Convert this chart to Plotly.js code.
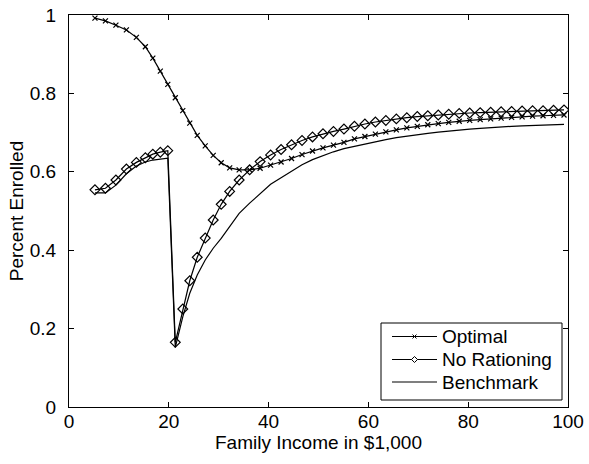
<!DOCTYPE html>
<html>
<head>
<meta charset="utf-8">
<script src="https://cdn.plot.ly/plotly-3.0.1.min.js"></script>
<style>
  html, body { margin: 0; padding: 0; background: #fff; }
  #chart { width: 589px; height: 464px; }
</style>
</head>
<body>
<div id="chart"></div>
<script>
// Family income grid (in $1,000)
const income = [5.2, 7.3, 9.4, 11.5, 13.5, 15.3, 16.8, 18.3, 19.8, 21.3, 22.8, 24.2, 25.7, 27.3, 28.9, 30.5, 32.2,
  34.1, 36.2, 38.3, 40.4, 42.5, 44.6, 46.7, 48.8, 50.9, 53.0, 55.1, 57.2, 59.3, 61.4, 63.5, 65.6, 67.7, 69.8,
  71.9, 74.0, 76.1, 78.2, 80.3, 82.4, 84.5, 86.6, 88.7, 90.8, 92.9, 95.0, 97.1, 99.2];

// Share of families enrolled under each policy
const optimal = [0.992, 0.985, 0.974, 0.962, 0.943, 0.919, 0.890, 0.857, 0.823, 0.789, 0.756, 0.724, 0.693, 0.666, 0.642, 0.623, 0.610,
  0.605, 0.605, 0.609, 0.617, 0.625, 0.634, 0.644, 0.653, 0.661, 0.668, 0.675, 0.684, 0.690, 0.696, 0.702, 0.707, 0.712, 0.716,
  0.720, 0.723, 0.726, 0.729, 0.731, 0.733, 0.735, 0.737, 0.739, 0.740, 0.742, 0.743, 0.744, 0.745];

const noRationing = [0.554, 0.558, 0.579, 0.607, 0.624, 0.636, 0.645, 0.650, 0.654, 0.165, 0.250, 0.322, 0.382, 0.431, 0.477, 0.517, 0.550,
  0.579, 0.605, 0.626, 0.643, 0.657, 0.669, 0.680, 0.689, 0.697, 0.703, 0.709, 0.716, 0.722, 0.727, 0.731, 0.735, 0.738, 0.741,
  0.743, 0.745, 0.747, 0.749, 0.750, 0.751, 0.752, 0.753, 0.754, 0.755, 0.756, 0.756, 0.757, 0.758];

const benchmark = [0.546, 0.546, 0.566, 0.595, 0.615, 0.625, 0.630, 0.633, 0.635, 0.152, 0.230, 0.290, 0.337, 0.375, 0.405, 0.430, 0.460,
  0.494, 0.520, 0.545, 0.568, 0.585, 0.602, 0.618, 0.631, 0.642, 0.651, 0.659, 0.665, 0.671, 0.677, 0.682, 0.687, 0.691, 0.695,
  0.698, 0.701, 0.704, 0.707, 0.709, 0.711, 0.713, 0.714, 0.716, 0.717, 0.718, 0.719, 0.720, 0.721];

const seriesNames = ['Optimal', 'No Rationing', 'Benchmark'];
const xTicks = [0, 20, 40, 60, 80, 100];
const yTicks = [0, 0.2, 0.4, 0.6, 0.8, 1];

const FONT = 'Liberation Sans, Arial, Helvetica, sans-serif';
const FS = 19;
const LW = 1.2;

// Plot area in pixels (used to place the boxed key in paper fractions)
const W = 589, H = 464;
const M = { l: 69, r: 21, t: 15, b: 57 };
const PW = W - M.l - M.r, PH = H - M.t - M.b;
const px2x = p => (p - M.l) / PW;
const py2y = p => (H - M.b - p) / PH;

const markerStyles = [
  { symbol: 'x-thin-open', size: 5 },
  { symbol: 'diamond-open', size: 7.5 },
  null
];
const seriesValues = [optimal, noRationing, benchmark];

const traces = seriesValues.map((vals, i) => {
  const t = {
    x: income, y: vals, name: seriesNames[i], type: 'scatter',
    mode: markerStyles[i] ? 'lines+markers' : 'lines',
    line: { color: '#000', width: LW },
    showlegend: false
  };
  if (markerStyles[i]) {
    t.marker = { symbol: markerStyles[i].symbol, size: markerStyles[i].size, color: '#000',
                 line: { color: '#000', width: LW } };
  }
  return t;
});

// Boxed key in the lower right corner
const key = { left: 381, right: 562, top: 323, bottom: 400, rowY: [336.5, 359.5, 382], lineX0: 392, lineX1: 437, textX: 440 };
const shapes = [{
  type: 'rect', xref: 'paper', yref: 'paper', layer: 'above',
  x0: px2x(key.left), x1: px2x(key.right), y0: py2y(key.bottom), y1: py2y(key.top),
  fillcolor: '#fff', line: { color: '#000', width: 1 }
}];
const annotations = [];
const midX = (key.lineX0 + key.lineX1) / 2;
seriesNames.forEach((name, i) => {
  const yy = py2y(key.rowY[i]);
  shapes.push({
    type: 'line', xref: 'paper', yref: 'paper', layer: 'above',
    x0: px2x(key.lineX0), x1: px2x(key.lineX1), y0: yy, y1: yy,
    line: { color: '#000', width: LW }
  });
  const base = {
    type: 'path', xref: 'paper', yref: 'paper', layer: 'above',
    xsizemode: 'pixel', ysizemode: 'pixel', xanchor: px2x(midX), yanchor: yy,
    line: { color: '#000', width: 1 }
  };
  if (i === 0) {
    shapes.push(Object.assign({}, base, { path: 'M-2,-2L2,2M-2,2L2,-2' }));
  } else if (i === 1) {
    shapes.push(Object.assign({}, base, { path: 'M0,3L3,0L0,-3L-3,0Z', fillcolor: '#fff' }));
  }
  annotations.push({
    xref: 'paper', yref: 'paper', x: px2x(key.textX), y: yy,
    xanchor: 'left', yanchor: 'middle', showarrow: false, text: name,
    font: { family: FONT, size: FS, color: '#000' }
  });
});

const axisCommon = {
  showgrid: false, zeroline: false, showline: true, linecolor: '#000', linewidth: 1,
  mirror: 'ticks', ticks: 'inside', ticklen: 5, tickcolor: '#000', tickwidth: 1,
  tickfont: { family: FONT, size: FS, color: '#000' }
};

const layout = {
  width: W, height: H,
  margin: M,
  paper_bgcolor: '#fff', plot_bgcolor: '#fff',
  font: { family: FONT, size: FS, color: '#000' },
  showlegend: false,
  shapes: shapes,
  annotations: annotations,
  xaxis: Object.assign({}, axisCommon, {
    range: [0, 100], tickvals: xTicks, ticktext: xTicks.map(String),
    ticklabelstandoff: -3,
    title: { text: 'Family Income in $1,000', font: { family: FONT, size: FS, color: '#000' }, standoff: 0 }
  }),
  yaxis: Object.assign({}, axisCommon, {
    range: [0, 1], tickvals: yTicks, ticktext: yTicks.map(String),
    ticklabelstandoff: 8,
    title: { text: 'Percent Enrolled', font: { family: FONT, size: FS, color: '#000' }, standoff: 1 }
  })
};

Plotly.newPlot('chart', traces, layout, { displayModeBar: false, staticPlot: true });
</script>
</body>
</html>
